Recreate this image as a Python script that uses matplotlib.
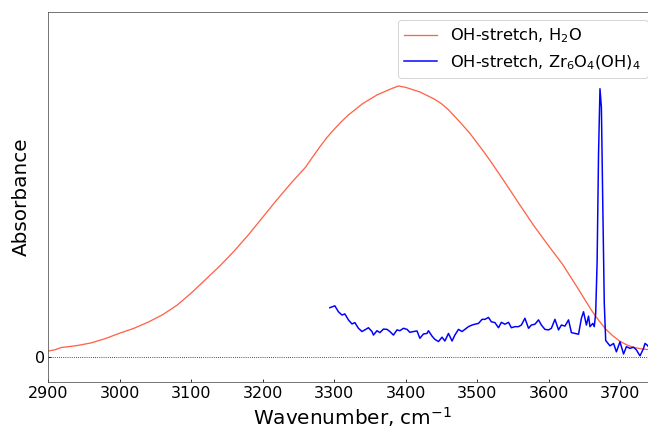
import matplotlib
matplotlib.use('Agg')
import matplotlib.pyplot as plt
import numpy as np

# OH-stretch of liquid water (normalised absorbance)
wn_h2o = [2900, 2910, 2918, 2925, 2940, 2960, 2980, 3000, 3020, 3040, 3060,
          3080, 3100, 3120, 3140, 3160, 3180, 3200, 3220, 3240, 3260, 3270,
          3280, 3290, 3300, 3310, 3320, 3340, 3360, 3380, 3390, 3400, 3420,
          3440, 3450, 3460, 3470, 3480, 3490, 3500, 3510, 3520, 3540, 3560,
          3580, 3600, 3620, 3640, 3660, 3670, 3680, 3690, 3700, 3710, 3720,
          3730, 3740, 3750]
abs_h2o = [0.021, 0.026, 0.034, 0.036, 0.041, 0.051, 0.067, 0.087, 0.105,
           0.128, 0.155, 0.190, 0.235, 0.285, 0.335, 0.390, 0.450, 0.515,
           0.580, 0.642, 0.700, 0.738, 0.775, 0.810, 0.840, 0.868, 0.893,
           0.935, 0.967, 0.990, 1.000, 0.995, 0.978, 0.952, 0.935, 0.912,
           0.884, 0.855, 0.825, 0.790, 0.755, 0.718, 0.640, 0.560, 0.482,
           0.410, 0.340, 0.257, 0.172, 0.135, 0.102, 0.077, 0.057, 0.043,
           0.034, 0.029, 0.026, 0.025]

# OH-stretch of Zr6O4(OH)4 cluster
wn_zr = [3294, 3301, 3306, 3311, 3315, 3320, 3325, 3329, 3334, 3339, 3343,
         3348, 3353, 3355, 3360, 3364, 3369, 3374, 3378, 3383, 3388, 3392,
         3397, 3402, 3406, 3411, 3416, 3420, 3425, 3430, 3432, 3437, 3441,
         3446, 3451, 3455, 3460, 3465, 3469, 3474, 3479, 3483, 3488, 3493,
         3497, 3502, 3507, 3511, 3516, 3520, 3525, 3530, 3534, 3539, 3544,
         3548, 3553, 3558, 3562, 3567, 3572, 3576, 3581, 3586, 3590, 3595,
         3600, 3604, 3609, 3614, 3618, 3623, 3628, 3632, 3637, 3642, 3646,
         3649, 3653, 3656, 3658, 3662, 3664, 3666, 3668, 3670, 3672, 3674,
         3676, 3678, 3680, 3686, 3691, 3695, 3700, 3705, 3709, 3714, 3719,
         3723, 3728, 3733, 3735, 3738, 3742]
abs_zr = [0.181, 0.188, 0.166, 0.154, 0.158, 0.136, 0.121, 0.126, 0.105,
          0.093, 0.099, 0.107, 0.093, 0.080, 0.096, 0.089, 0.102, 0.101,
          0.093, 0.080, 0.099, 0.096, 0.105, 0.101, 0.090, 0.093, 0.095,
          0.068, 0.084, 0.086, 0.096, 0.076, 0.064, 0.056, 0.072, 0.058,
          0.086, 0.058, 0.080, 0.101, 0.093, 0.101, 0.111, 0.117, 0.120,
          0.123, 0.138, 0.138, 0.145, 0.129, 0.126, 0.107, 0.127, 0.120,
          0.127, 0.107, 0.111, 0.111, 0.117, 0.142, 0.105, 0.117, 0.120,
          0.136, 0.117, 0.101, 0.099, 0.105, 0.138, 0.099, 0.117, 0.113,
          0.136, 0.089, 0.086, 0.083, 0.142, 0.166, 0.117, 0.150, 0.111,
          0.123, 0.111, 0.160, 0.350, 0.750, 0.990, 0.920, 0.550, 0.200,
          0.060, 0.040, 0.049, 0.018, 0.055, 0.010, 0.037, 0.031, 0.035,
          0.025, 0.003, 0.031, 0.049, 0.043, 0.030]

fig = plt.figure(figsize=(9, 430/72), dpi=72)
ax = fig.add_axes([0.0745, 0.1109, 0.9374, 0.8619])

ax.plot(wn_h2o, abs_h2o, color='tomato', lw=1.3, label='OH-stretch, H$_2$O')
ax.plot(wn_zr, abs_zr, color='blue', lw=1.5, label='OH-stretch, Zr$_6$O$_4$(OH)$_4$')
ax.axhline(0, color='k', ls=':', lw=0.8)

ax.set_xlim(2900, 3750)
ax.set_ylim(-0.0946, 1.2745)
ax.set_xticks(np.arange(2900, 3701, 100))
ax.set_yticks([0])
ax.tick_params(direction='in', labelsize=16, length=3)
for s in ax.spines.values():
    s.set_color('#555555')

ax.set_xlabel('Wavenumber, cm$^{-1}$', fontsize=20)
ax.set_ylabel('Absorbance', fontsize=20)
ax.legend(loc='upper right', fontsize=16.3)

fig.savefig('out.png', dpi=72)
